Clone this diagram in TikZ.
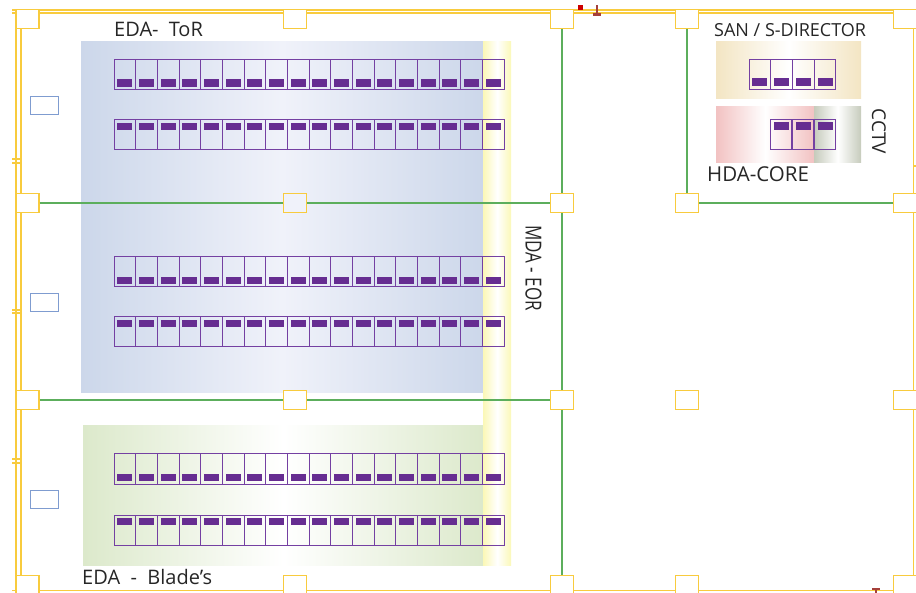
\documentclass[tikz,border=0pt]{standalone}
\usepackage{fontspec}
\setmainfont{Open Sans}
\definecolor{pillarline}{HTML}{F8CB3E}
\definecolor{wireline}{HTML}{5CAE5C}
\definecolor{rackline}{HTML}{7440A2}
\definecolor{rackfill}{HTML}{662D91}
\definecolor{panelline}{HTML}{7F9CD0}
\definecolor{markred}{HTML}{A5403A}
\definecolor{edablue}{HTML}{CCD7EA}
\definecolor{edabluemid}{HTML}{F0F2FA}
\definecolor{edagreen}{HTML}{DCE9CB}
\definecolor{mdayellow}{HTML}{FBF8B8}
\definecolor{santan}{HTML}{F3E5C3}
\definecolor{hdapink}{HTML}{F2C2C2}
\definecolor{cctvgrey}{HTML}{C6CBBC}
\tikzset{
    pillar/.style={draw=pillarline, line width=1.2pt, fill=white, minimum width=23pt, minimum height=18.5pt, inner sep=0pt},
    wall/.style={draw=pillarline, line width=1.2pt},
    wire/.style={draw=wireline, line width=1.2pt},
    rackcell/.style={draw=rackline, line width=1pt, minimum width=21.67pt, minimum height=30pt, inner sep=0pt},
    rackbar/.style={fill=rackfill, minimum width=15pt, minimum height=7.5pt, inner sep=0pt},
    panel/.style={draw=panelline, line width=0.9pt, fill=white, minimum width=28pt, minimum height=18pt, inner sep=0pt},
    zone/.style={inner sep=0pt, anchor=north west},
    zonelabel/.style={inner sep=0pt, text=black!85}
}
\begin{document}
\begin{tikzpicture}[x=1pt,y=1pt]
    \useasboundingbox (0,0) rectangle (916,-593);

    % zones
    \node[zone, minimum width=402pt, minimum height=351pt, shade, shading=axis, shading angle=90, left color=edablue, right color=edablue, middle color=edabluemid] (edator) at (81,-41) {};
    \node[zone, minimum width=400pt, minimum height=140pt, shade, shading=axis, shading angle=90, left color=edagreen, right color=edagreen, middle color=white] (edablade) at (83,-425) {};
    \node[zone, minimum width=28pt, minimum height=524pt, shade, shading=axis, shading angle=90, left color=mdayellow, right color=mdayellow, middle color=white] (mdaeor) at (483,-41) {};
    \node[zone, minimum width=145pt, minimum height=57pt, shade, shading=axis, shading angle=90, left color=santan, right color=santan, middle color=white] (sanzone) at (716,-41) {};
    \node[zone, minimum width=98pt, minimum height=56pt, shade, shading=axis, shading angle=90, left color=hdapink, right color=hdapink, middle color=white] (hdazone) at (716,-106) {};
    \node[zone, minimum width=47pt, minimum height=56pt, shade, shading=axis, shading angle=90, left color=cctvgrey, right color=cctvgrey, middle color=white] (cctvzone) at (814,-106) {};

    % walls
    \draw[wall] (12,-10) -- (916,-10); \draw[wall] (12,-13) -- (916,-13); \draw[wall] (12,-590.5) -- (916,-590.5);
    \draw[wall] (16,-10) -- (16,-593); \draw[wall] (21,-13) -- (21,-593); \draw[wall] (913.7,-13) -- (913.7,-593);
    \draw[wall] (12,-159) -- (21,-159); \draw[wall] (12,-163) -- (21,-163);
    \draw[wall] (12,-310) -- (21,-310); \draw[wall] (12,-313) -- (21,-313);
    \draw[wall] (12,-459) -- (21,-459); \draw[wall] (12,-463) -- (21,-463);
    \draw[wall] (914,-166) -- (916,-166);

    % pillars
    \foreach \colname/\colx in {a/27.5,b/295,c/562,d/687,e/905}
        \foreach \rowname/\rowy in {1/-19,2/-203,3/-400,4/-585}
            \node[pillar] (\colname\rowname) at (\colx,\rowy) {};
    \node[pillar, fill=edabluemid] (b2) at (295,-203) {};

    \draw[wire] (a2) to (b2); \draw[wire] (b2) to (c2); \draw[wire] (d2) to (e2);
    \draw[wire] (a3) to (b3); \draw[wire] (b3) to (c3);
    \draw[wire] (c1) to (c2); \draw[wire] (c2) to (c3); \draw[wire] (c3) to (c4); \draw[wire] (d1) to (d2);

    % racks
    \foreach \rackname/\racky/\barshift in {ra/-74.5/-8.7,rb/-135/8.7,rc/-272/-8.7,rd/-332/8.7,re/-469/-8.7,rf/-530/8.7}
        \foreach \i in {1,...,18} {
            \node[rackcell] (\rackname\i) at ({114+21.67*(\i-0.5)},\racky) {};
            \node[rackbar] (\rackname-bar\i) at ([yshift=\barshift pt]\rackname\i.center) {};
        }
    \foreach \i in {1,...,4} {
        \node[rackcell] (san\i) at ({749+21.75*(\i-0.5)},-74.5) {};
        \node[rackbar] (san-bar\i) at ([yshift=-7.7pt]san\i.center) {};
    }
    \foreach \i in {1,...,3} {
        \node[rackcell] (hda\i) at ({770+22*(\i-0.5)},-134.5) {};
        \node[rackbar] (hda-bar\i) at ([yshift=8.7pt]hda\i.center) {};
    }

    % panels
    \node[panel] (panela) at (44,-105) {};
    \node[panel] (panelb) at (44,-302) {};
    \node[panel] (panelc) at (44,-499.5) {};

    % labels
    \node[zonelabel, anchor=base west, font=\fontsize{20}{20}\selectfont] (edatorlabel) at (114,-37) {EDA-\hspace{5pt} ToR};
    \node[zonelabel, anchor=base west, font=\fontsize{20}{20}\selectfont] (edabladelabel) at (82,-584) {EDA\ \ -\ \ Blade’s};
    \node[zonelabel, anchor=base west, font=\fontsize{18}{18}\selectfont] (sanlabel) at (714,-37) {SAN / S-DIRECTOR};
    \node[zonelabel, anchor=base west, font=\fontsize{20.5}{20.5}\selectfont] (hdalabel) at (707,-182) {HDA-CORE};
    \node[zonelabel, rotate=-90, font=\fontsize{19}{19}\selectfont] (cctvlabel) at (879,-131.5) {CCTV};
    \node[zonelabel, rotate=-90, font=\fontsize{17}{17}\selectfont] (mdalabel) at (533.5,-268) {\scalebox{1}[1.3]{MDA - EOR}};

    % marks
    \fill[red!80!black] (578,-5) rectangle (583,-10);
    \fill[markred] (596,-5) rectangle (598,-14); \fill[markred] (593,-13) rectangle (601,-16);
    \fill[markred] (872,-588) rectangle (880,-590); \fill[markred] (875,-590) rectangle (877,-593);
\end{tikzpicture}
\end{document}
